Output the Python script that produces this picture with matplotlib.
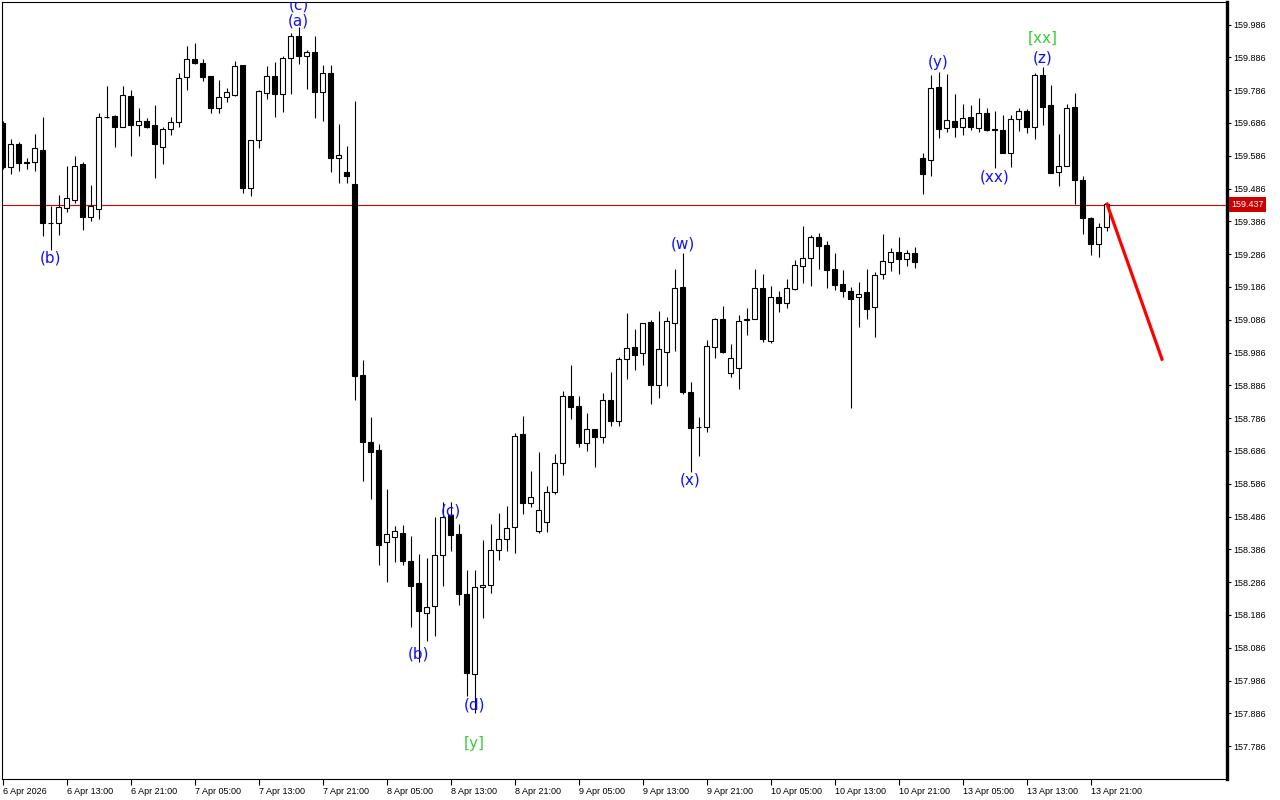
import numpy as np
import matplotlib
matplotlib.use('Agg')
import matplotlib.pyplot as plt

# hourly bars, 6 Apr 05:00 .. 10 Apr 23:00 then 13 Apr 00:00 .. 23:00
opens = [159.685, 159.551, 159.622, 159.566, 159.566, 159.604, 159.382, 159.380, 159.428, 159.451,
         159.561, 159.400, 159.425, 159.705, 159.707, 159.675, 159.767, 159.679, 159.691, 159.679,
         159.612, 159.667, 159.688, 159.825, 159.880, 159.869, 159.829, 159.730, 159.764, 159.771,
         159.862, 159.487, 159.634, 159.776, 159.829, 159.773, 159.883, 159.951, 159.891, 159.901,
         159.779, 159.837, 159.578, 159.535, 159.499, 158.917, 158.713, 158.689, 158.407, 158.424,
         158.435, 158.350, 158.283, 158.192, 158.212, 158.368, 158.490, 158.434, 158.250, 158.006,
         158.272, 158.276, 158.384, 158.416, 158.453, 158.738, 158.528, 158.443, 158.470, 158.562,
         158.648, 158.853, 158.823, 158.711, 158.752, 158.729, 158.841, 158.778, 158.965, 159.002,
         158.984, 159.078, 158.887, 158.989, 159.077, 159.185, 158.865, 158.760, 158.760, 159.004,
         159.088, 158.925, 158.940, 159.086, 159.087, 159.182, 159.022, 159.154, 159.136, 159.180,
         159.251, 159.275, 159.339, 159.314, 159.240, 159.195, 159.174, 159.156, 159.170, 159.126,
         159.224, 159.263, 159.291, 159.270, 159.289, 159.578, 159.572, 159.795, 159.670, 159.692,
         159.675, 159.703, 159.670, 159.715, 159.668, 159.665, 159.593, 159.697, 159.723, 159.675,
         159.832, 159.741, 159.536, 159.556, 159.734, 159.512, 159.395, 159.316, 159.368]
highs = [159.692, 159.637, 159.629, 159.578, 159.652, 159.704, 159.433, 159.466, 159.555, 159.585,
         159.568, 159.497, 159.715, 159.799, 159.710, 159.797, 159.787, 159.731, 159.700, 159.741,
         159.672, 159.705, 159.837, 159.921, 159.929, 159.880, 159.830, 159.817, 159.791, 159.875,
         159.862, 159.634, 159.786, 159.859, 159.871, 159.890, 159.961, 159.979, 159.908, 159.952,
         159.862, 159.862, 159.683, 159.616, 159.754, 158.963, 158.788, 158.707, 158.570, 158.458,
         158.461, 158.428, 158.373, 158.361, 158.485, 158.530, 158.530, 158.464, 158.324, 158.324,
         158.415, 158.464, 158.496, 158.518, 158.742, 158.792, 158.625, 158.684, 158.580, 158.677,
         158.869, 158.948, 158.853, 158.803, 158.752, 158.862, 158.928, 158.973, 159.107, 159.057,
         159.077, 159.085, 159.113, 159.093, 159.240, 159.290, 158.895, 158.790, 159.024, 159.092,
         159.128, 159.012, 159.100, 159.121, 159.240, 159.225, 159.189, 159.172, 159.209, 159.268,
         159.372, 159.344, 159.349, 159.327, 159.290, 159.238, 159.187, 159.202, 159.240, 159.232,
         159.347, 159.304, 159.337, 159.299, 159.307, 159.593, 159.832, 159.842, 159.835, 159.774,
         159.743, 159.741, 159.761, 159.731, 159.723, 159.710, 159.710, 159.731, 159.729, 159.839,
         159.856, 159.802, 159.651, 159.744, 159.778, 159.524, 159.400, 159.382, 159.443]
lows = [159.545, 159.530, 159.538, 159.545, 159.538, 159.342, 159.299, 159.344, 159.413, 159.441,
        159.360, 159.386, 159.394, 159.700, 159.614, 159.674, 159.585, 159.646, 159.670, 159.519,
        159.561, 159.649, 159.672, 159.785, 159.866, 159.815, 159.717, 159.717, 159.751, 159.768,
        159.473, 159.463, 159.611, 159.759, 159.705, 159.720, 159.773, 159.865, 159.789, 159.700,
        159.693, 159.535, 159.502, 159.504, 158.842, 158.595, 158.538, 158.338, 158.287, 158.347,
        158.338, 158.149, 158.043, 158.107, 158.121, 158.273, 158.381, 158.215, 157.938, 157.887,
        158.178, 158.253, 158.353, 158.382, 158.374, 158.493, 158.514, 158.437, 158.440, 158.555,
        158.613, 158.783, 158.699, 158.687, 158.638, 158.711, 158.762, 158.762, 158.905, 158.933,
        158.948, 158.829, 158.848, 158.885, 158.992, 158.860, 158.623, 158.670, 158.745, 158.968,
        158.986, 158.910, 158.874, 159.039, 159.087, 159.019, 159.016, 159.111, 159.121, 159.177,
        159.199, 159.190, 159.240, 159.184, 159.177, 159.156, 158.816, 159.065, 159.088, 159.032,
        159.211, 159.236, 159.225, 159.251, 159.245, 159.468, 159.525, 159.639, 159.657, 159.642,
        159.649, 159.663, 159.657, 159.662, 159.548, 159.593, 159.551, 159.662, 159.654, 159.636,
        159.680, 159.533, 159.495, 159.556, 159.439, 159.347, 159.284, 159.278, 159.357]
closes = [159.551, 159.621, 159.565, 159.563, 159.610, 159.382, 159.381, 159.429, 159.456, 159.555,
          159.400, 159.433, 159.703, 159.703, 159.675, 159.770, 159.681, 159.691, 159.672, 159.623,
          159.668, 159.688, 159.822, 159.880, 159.868, 159.827, 159.730, 159.764, 159.779, 159.859,
          159.489, 159.634, 159.784, 159.829, 159.773, 159.883, 159.951, 159.891, 159.901, 159.779,
          159.837, 159.578, 159.588, 159.525, 158.915, 158.714, 158.684, 158.400, 158.432, 158.441,
          158.350, 158.274, 158.198, 158.210, 158.369, 158.484, 158.429, 158.249, 158.010, 158.272,
          158.278, 158.384, 158.416, 158.450, 158.731, 158.528, 158.544, 158.506, 158.562, 158.648,
          158.853, 158.821, 158.711, 158.752, 158.729, 158.841, 158.778, 158.965, 158.999, 158.978,
          159.075, 158.887, 158.997, 159.082, 159.182, 158.865, 158.757, 158.758, 159.006, 159.088,
          158.988, 158.969, 159.082, 159.087, 159.182, 159.026, 159.154, 159.136, 159.182, 159.253,
          159.273, 159.339, 159.312, 159.238, 159.193, 159.172, 159.150, 159.163, 159.120, 159.222,
          159.265, 159.291, 159.270, 159.288, 159.263, 159.529, 159.792, 159.667, 159.695, 159.675,
          159.700, 159.672, 159.715, 159.665, 159.665, 159.593, 159.697, 159.723, 159.675, 159.832,
          159.736, 159.533, 159.556, 159.731, 159.512, 159.397, 159.316, 159.370, 159.438]

date_labels = ['6 Apr 2026', '6 Apr 13:00', '6 Apr 21:00', '7 Apr 05:00', '7 Apr 13:00',
               '7 Apr 21:00', '8 Apr 05:00', '8 Apr 13:00', '8 Apr 21:00', '9 Apr 05:00',
               '9 Apr 13:00', '9 Apr 21:00', '10 Apr 05:00', '10 Apr 13:00', '10 Apr 21:00',
               '13 Apr 05:00', '13 Apr 13:00', '13 Apr 21:00']

current_price = 159.437

# forecast arrow
proj_bars = [138, 145]
proj_prices = [159.443, 158.961]

# wave marks
wave_text = ['(b)', '(c)', '(a)', '(b)', '(c)', '(d)', '[y]', '(w)', '(x)', '(y)', '(xx)', '[xx]', '(z)']
wave_bars = [6, 37, 37, 52, 56, 59, 59, 85, 86, 117, 124, 130, 130]
wave_prices = [159.274, 160.046, 159.997, 158.067, 158.503, 157.911, 157.795,
               159.317, 158.597, 159.869, 159.521, 159.945, 159.884]
wave_kind = ['m', 'm', 'm', 'm', 'm', 'm', 'M', 'm', 'm', 'm', 'm', 'M', 'm']


def draw_candles(ax):
    o = np.array(opens)
    h = np.array(highs)
    l = np.array(lows)
    c = np.array(closes)
    idx = np.arange(len(o))
    ax.vlines(idx, l, h, color='black', linewidth=0.8, zorder=2)
    colors = ['black' if cc < oo else 'white' for oo, cc in zip(o, c)]
    ax.bar(idx, np.abs(c - o), bottom=np.minimum(o, c), width=0.6,
           color=colors, edgecolor='black', linewidth=0.8, zorder=3)


fig = plt.figure(figsize=(12.8, 8), dpi=100)
ax = fig.add_axes([2 / 1280, 21 / 800, 1225 / 1280, 777 / 800])

draw_candles(ax)

ax.axhline(current_price, color='#dd0000', linewidth=0.8, zorder=1)
ax.plot(proj_bars, proj_prices, color='#ff0000', linewidth=2.3, zorder=4,
        solid_capstyle='butt')

for t, b, p, k in zip(wave_text, wave_bars, wave_prices, wave_kind):
    col = '#1010ff' if k == 'm' else '#3ccc3c'
    ax.text(b, p, t, color=col, fontsize=11, ha='center', va='center',
            family='DejaVu Sans', clip_on=True, zorder=5)

ax.set_xlim(-0.0625, 153.06)
ax.set_ylim(157.6857, 160.0546)

# price scale on the right
yt = np.round(np.arange(157.786, 159.99, 0.1), 3)
ax.yaxis.tick_right()
ax.set_yticks(yt)
ax.set_yticklabels(['%.3f' % v for v in yt])
ax.tick_params(axis='y', direction='out', length=3, width=0.8, pad=1.5,
               labelsize=6.5, colors='black')

ax.set_xticks(np.arange(0, len(opens), 8))
ax.set_xticklabels(date_labels)
ax.tick_params(axis='x', direction='out', length=4, width=0.8, pad=1.5,
               labelsize=6.5)
for lab in ax.get_xticklabels():
    lab.set_horizontalalignment('left')
    lab.set_fontfamily('Liberation Sans')
for lab in ax.get_yticklabels():
    lab.set_fontfamily('Liberation Sans')

for s in ['left', 'top', 'bottom']:
    ax.spines[s].set_linewidth(0.8)
ax.spines['right'].set_linewidth(2.4)

# current price tag
ax.text(1.0035, current_price, '%.3f' % current_price, transform=ax.get_yaxis_transform(),
        color='white', fontsize=6.5, family='Liberation Sans', ha='left', va='center',
        bbox=dict(boxstyle='square,pad=0.3', fc='#cc0000', ec='none'), clip_on=False, zorder=6)

fig.savefig('out.png', dpi=100)
